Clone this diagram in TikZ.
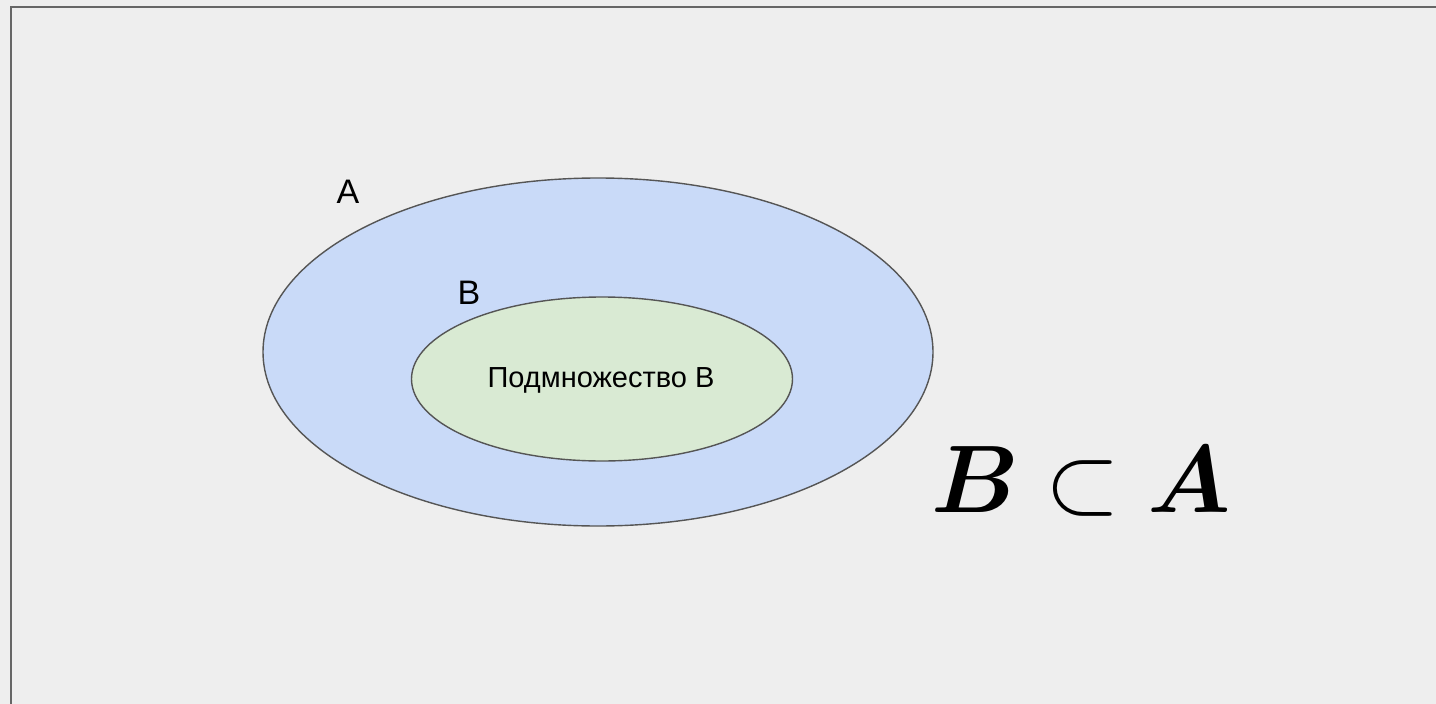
\RequirePackage{fix-cm}
\documentclass[tikz,border=0pt]{standalone}
\usepackage{amsmath}
\usepackage{bm}
\usepackage{fontspec}
\setmainfont{Liberation Sans}
\definecolor{bgc}{HTML}{EEEEEE}
\definecolor{framec}{HTML}{666666}
\definecolor{setA}{HTML}{C9DAF8}
\definecolor{setB}{HTML}{D9EAD3}
\definecolor{linec}{HTML}{555555}
\tikzset{
  setshape/.style={ellipse, draw=linec, line width=1.4pt, inner sep=0pt},
  lbl/.style={font=\fontsize{34}{40}\selectfont, text=black},
}
\usetikzlibrary{shapes.geometric}
\begin{document}
\begin{tikzpicture}[x=1pt,y=-1pt]
\useasboundingbox (0,0) rectangle (1436,704);
\fill[bgc] (0,0) rectangle (1436,704);
\draw[framec, line width=2pt] (11,7) rectangle (1446,714);
\node[setshape, fill=setA, minimum width=670pt, minimum height=348pt] (A) at (598,352) {};
\node[setshape, fill=setB, minimum width=381pt, minimum height=164pt] (B) at (602,379) {};
\node[font=\fontsize{29}{33}\selectfont] (Bt) at (601,380) {Подмножество B};
\node[lbl] (Alab) at (348,192) {A};
\node[lbl] (Blab) at (469,293) {B};
\node[font=\fontsize{96}{116}\selectfont, anchor=base] (rel) at (1081,512) {$\bm{B}\subset\bm{A}$};
\end{tikzpicture}
\end{document}
